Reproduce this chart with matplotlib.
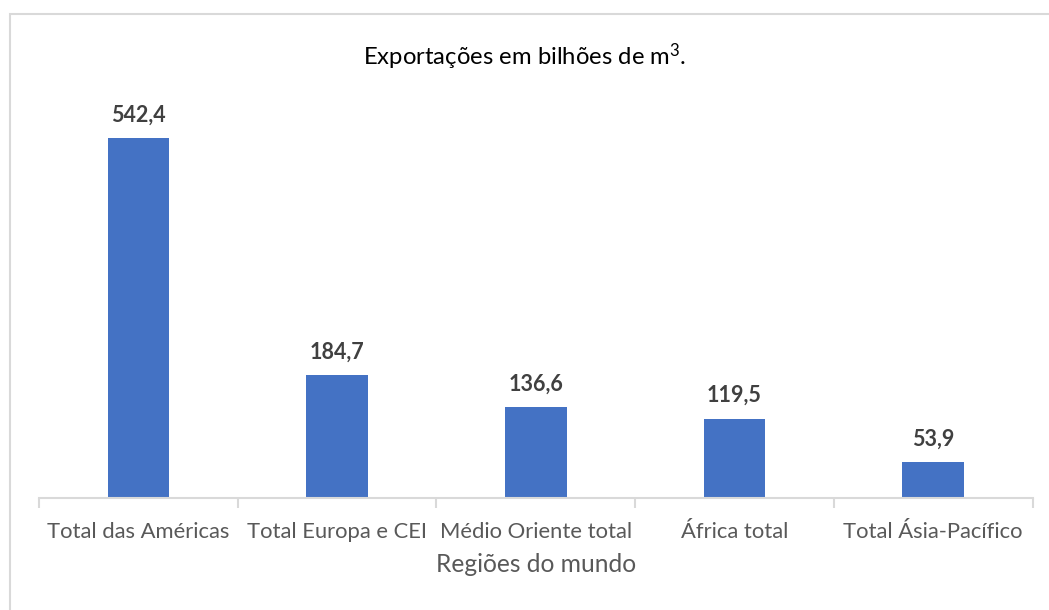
"""
Exportações de gás natural por região (bilhões de m³).
"""

import matplotlib.pyplot as plt
from matplotlib.patches import Rectangle

regioes = ['Total das Américas', 'Total Europa e CEI', 'Médio Oriente total',
           'África total', 'Total Ásia-Pacífico']
exportacoes = [542.4, 184.7, 136.6, 119.5, 53.9]

plt.rcParams['font.family'] = ['Lato', 'DejaVu Sans']
plt.rcParams['mathtext.default'] = 'regular'

fig = plt.figure(figsize=(10.49, 6.10), dpi=100)
ax = fig.add_axes([39 / 1049, 1 - 498 / 610, (1032.5 - 39) / 1049, (498 - 99.8) / 610])

x = range(len(regioes))
bars = ax.bar(x, exportacoes, width=0.31, color='#4472C4', zorder=2)

for b, v in zip(bars, exportacoes):
    ax.annotate(f'{v:.1f}'.replace('.', ','),
                (b.get_x() + b.get_width() / 2, v),
                xytext=(0, 9), textcoords='offset points',
                ha='center', va='bottom', fontsize=15.5, fontweight='bold',
                color='#404040')

ax.set_xlim(-0.5, len(regioes) - 0.5)
ax.set_ylim(0, 600)
ax.set_yticks([])
for s in ['top', 'right', 'left']:
    ax.spines[s].set_visible(False)
ax.spines['bottom'].set_color('#d9d9d9')
ax.spines['bottom'].set_linewidth(1.5)

ax.set_xticks(list(x))
ax.set_xticklabels(regioes, fontsize=15.8, color='#595959')
ax.tick_params(axis='x', length=0, pad=17)
ax.set_xticks([i - 0.5 for i in range(len(regioes) + 1)], minor=True)
ax.tick_params(axis='x', which='minor', length=7, width=1.5, color='#d9d9d9')

ax.set_xlabel('Regiões do mundo', fontsize=17.7, color='#595959', labelpad=8)

fig.text(0.5, 1 - 57 / 610, 'Exportações em bilhões de m$^{3}$.',
         ha='center', va='center', fontsize=17.2, color='black')

fig.patches.append(Rectangle((10 / 1049, -0.1), 1.2, 1.1 - 14 / 610,
                             transform=fig.transFigure, fill=False,
                             edgecolor='#d9d9d9', linewidth=1.5))

fig.savefig('out.png', dpi=100)
